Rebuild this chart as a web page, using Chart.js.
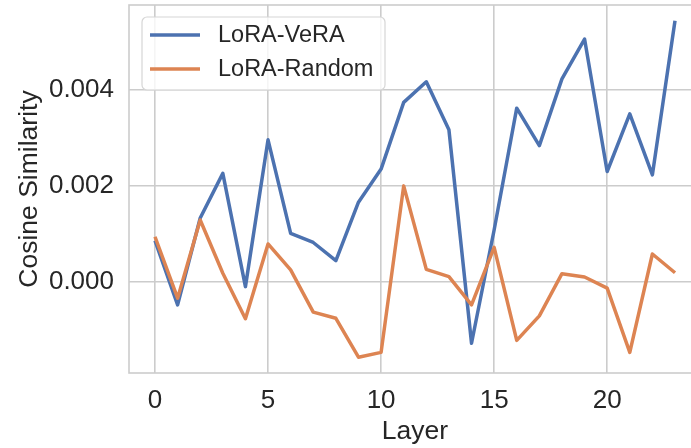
<!DOCTYPE html>
<html>
<head>
<meta charset="utf-8">
<script src="https://cdn.jsdelivr.net/npm/chart.js@4/dist/chart.umd.min.js"></script>
<style>
  html, body { margin: 0; padding: 0; background: #ffffff; overflow: hidden; }
  #wrap { width: 702px; height: 448px; position: relative; }
</style>
</head>
<body>
<div id="wrap"><canvas id="c" width="702" height="448"></canvas></div>
<script>
// ---- data ----
const layers = [0,1,2,3,4,5,6,7,8,9,10,11,12,13,14,15,16,17,18,19,20,21,22,23];
const loraVera = [0.00086, -0.00048, 0.00133, 0.00226, -0.00010, 0.00296, 0.00101, 0.00082,
                  0.00044, 0.00166, 0.00235, 0.00374, 0.00417, 0.00317, -0.00128, 0.00108,
                  0.00362, 0.00284, 0.00423, 0.00506, 0.00230, 0.00350, 0.00223, 0.00544];
const loraRandom = [0.00094, -0.00034, 0.00129, 0.00018, -0.00077, 0.00079, 0.00025, -0.00063,
                    -0.00076, -0.00157, -0.00147, 0.00200, 0.00026, 0.00011, -0.00048, 0.00072,
                    -0.00122, -0.00071, 0.00017, 0.00010, -0.00013, -0.00147, 0.00058, 0.00019];
const seriesNames = ['LoRA-VeRA', 'LoRA-Random'];
const xTicks = [0, 5, 10, 15, 20];
const yTicks = [0.000, 0.002, 0.004];
const xTitle = 'Layer';
const yTitle = 'Cosine Similarity';

const FONT = '"Liberation Sans", Arial, sans-serif';
const TEXT = '#262626';
const GRID = '#cccccc';
const BLUE = '#4c72b0';
const ORANGE = '#dd8452';

const toPts = (ys) => layers.map((x, i) => ({ x: x, y: ys[i] }));

const framePlugin = {
  id: 'frame',
  afterDraw(chart) {
    const { ctx, chartArea: a } = chart;
    ctx.save();
    ctx.strokeStyle = GRID;
    ctx.lineWidth = 1.6;
    ctx.strokeRect(a.left, a.top, a.right - a.left, a.bottom - a.top);
    ctx.restore();
  }
};

const legendPlugin = {
  id: 'boxLegend',
  afterDraw(chart) {
    const ctx = chart.ctx;
    const x0 = 142, y0 = 17, w = 243, h = 73, r = 5;
    ctx.save();
    ctx.beginPath();
    ctx.moveTo(x0 + r, y0);
    ctx.arcTo(x0 + w, y0, x0 + w, y0 + h, r);
    ctx.arcTo(x0 + w, y0 + h, x0, y0 + h, r);
    ctx.arcTo(x0, y0 + h, x0, y0, r);
    ctx.arcTo(x0, y0, x0 + w, y0, r);
    ctx.closePath();
    ctx.fillStyle = 'rgba(255,255,255,0.8)';
    ctx.fill();
    ctx.strokeStyle = '#d6d6d6';
    ctx.lineWidth = 1.2;
    ctx.stroke();
    const rowY = [35, 69];
    chart.data.datasets.forEach((ds, i) => {
      ctx.beginPath();
      ctx.strokeStyle = ds.borderColor;
      ctx.lineWidth = 3.5;
      ctx.lineCap = 'butt';
      ctx.moveTo(150, rowY[i]);
      ctx.lineTo(200, rowY[i]);
      ctx.stroke();
      ctx.fillStyle = TEXT;
      ctx.font = '23.5px ' + FONT;
      ctx.textBaseline = 'middle';
      ctx.textAlign = 'left';
      ctx.fillText(ds.label, 218, rowY[i] + 1);
    });
    ctx.restore();
  }
};

new Chart(document.getElementById('c'), {
  type: 'line',
  data: {
    datasets: [
      { label: seriesNames[0], data: toPts(loraVera), borderColor: BLUE, backgroundColor: BLUE,
        borderWidth: 3.5, pointRadius: 0, tension: 0, borderJoinStyle: 'round', order: 1 },
      { label: seriesNames[1], data: toPts(loraRandom), borderColor: ORANGE, backgroundColor: ORANGE,
        borderWidth: 3.5, pointRadius: 0, tension: 0, borderJoinStyle: 'round', order: 0 }
    ]
  },
  options: {
    responsive: false,
    animation: false,
    devicePixelRatio: 1,
    layout: { padding: { left: 0, top: 5, right: 1, bottom: 0 } },
    plugins: { legend: { display: false }, tooltip: { enabled: false } },
    scales: {
      x: {
        type: 'linear',
        min: -1.15, max: 24.15,
        afterBuildTicks: (s) => { s.ticks = xTicks.map(v => ({ value: v })); },
        afterFit: (s) => { s.height = 75; s.paddingLeft = 0; s.paddingRight = 0; },
        grid: { color: GRID, lineWidth: 1.6, drawTicks: false },
        border: { display: false },
        ticks: { color: TEXT, font: { family: FONT, size: 26 }, padding: 12, maxRotation: 0,
                 callback: (v) => String(v) },
        title: { display: true, text: xTitle, color: TEXT, font: { family: FONT, size: 26.5 },
                 padding: { top: 0, bottom: 0 } }
      },
      y: {
        type: 'linear',
        min: -0.0019, max: 0.00577,
        afterBuildTicks: (s) => { s.ticks = yTicks.map(v => ({ value: v })); },
        afterFit: (s) => { s.width = 129; s.paddingTop = 0; s.paddingBottom = 0; },
        grid: { color: GRID, lineWidth: 1.6, drawTicks: false },
        border: { display: false },
        ticks: { color: TEXT, font: { family: FONT, size: 26 }, padding: 15,
                 callback: (v) => Number(v).toFixed(3) },
        title: { display: true, text: yTitle, color: TEXT, font: { family: FONT, size: 26.5 },
                 padding: { top: 14, bottom: 0 } }
      }
    }
  },
  plugins: [framePlugin, legendPlugin]
});
</script>
</body>
</html>
